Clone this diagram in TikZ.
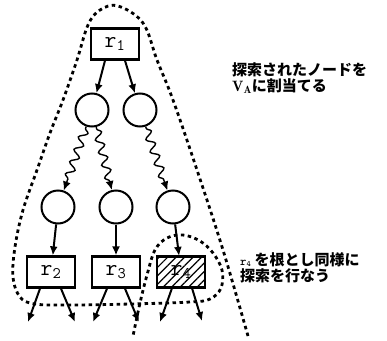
\documentclass[tikz,border=0pt]{standalone}
\usepackage{fontspec}
\newfontfamily\jp{Noto Sans CJK JP}
\usetikzlibrary{arrows.meta,decorations.pathmorphing,patterns.meta}
\begin{document}
\begin{tikzpicture}[x=1pt,y=-1pt,
 box/.style={draw, line width=2.2pt, minimum width=48pt, minimum height=31pt, inner sep=0pt, font=\fontsize{23}{23}\ttfamily},
 circ/.style={draw, circle, line width=2pt, minimum size=33pt, inner sep=0pt},
 arr/.style={line width=2pt, -{Latex[length=9pt,width=8pt]}},
 wavy/.style={line width=1.4pt, -{Latex[length=9pt,width=8pt]}, decorate, decoration={snake, segment length=13pt, amplitude=4pt, pre length=2pt, post length=8pt}},
 bound/.style={line width=2.8pt, dash pattern=on 3.5pt off 3.5pt},
 note/.style={font=\jp\bfseries\fontsize{15}{16}\selectfont, align=left, inner sep=0pt, anchor=north west}
]
\useasboundingbox (0,0) rectangle (387,340);

% big search boundary and the sub-search loop
\draw[bound] plot[smooth, tension=0.6] coordinates {
 (248,336) (223,250) (197,170) (173,100) (157,60) (143,23) (118,6) (100,10) (88,25)
 (77,60) (63,100) (50,133) (37,170) (23,210) (15,247) (13,277) (20,297) (35,304)
 (70,305) (130,304) (190,302) (210,299) (221,288) (222,270) (213,253) (200,241)
 (183,235) (167,238) (155,250) (147,275) (140,303) (133,336)};

% nodes
\node[box] (r1) at (115,44) {r\textsubscript{1}};
\node[circ] (c1) at (92,110) {};
\node[circ] (c2) at (140,110) {};
\node[circ] (c3) at (58,207) {};
\node[circ] (c4) at (116,207) {};
\node[circ] (c5) at (173,207) {};
\node[box] (r2) at (51,272) {r\textsubscript{2}};
\node[box] (r3) at (116,272) {r\textsubscript{3}};
\node[box, pattern={Lines[angle=45,distance=6pt,line width=1.2pt]}] (r4) at (181,272) {r\textsubscript{4}};

% connectors
\draw[arr] ([xshift=-10pt]r1.south) -- (c1);
\draw[arr] ([xshift=10pt]r1.south) -- (c2);
\draw[wavy] (c1) -- (c3);
\draw[wavy] (c1) -- (c4);
\draw[wavy] (c2) -- (c5);
\draw[arr] (c3) -- (r2);
\draw[arr] (c4) -- (r3);
\draw[arr] (c5) -- (r4);

% outgoing arrows
\coordinate (o1) at (28,322);
\coordinate (o2) at (75,322);
\coordinate (o3) at (93,322);
\coordinate (o4) at (139,322);
\coordinate (o5) at (160,322);
\coordinate (o6) at (202,321);
\draw[arr] ([xshift=-11pt]r2.south) -- (o1);
\draw[arr] ([xshift=10pt]r2.south) -- (o2);
\draw[arr] ([xshift=-9pt]r3.south) -- (o3);
\draw[arr] ([xshift=9pt]r3.south) -- (o4);
\draw[arr] ([xshift=-9pt]r4.south) -- (o5);
\draw[arr] ([xshift=11pt]r4.south) -- (o6);

% notes
\node[note] (n1) at (232,62) {探索されたノードを\\$\mathbf{V_A}$に割当てる};
\node[note] (n2) at (240,252) {{\ttfamily\fontsize{12}{12}\selectfont r\textsubscript{4}} を根とし同様に\\探索を行なう};
\end{tikzpicture}
\end{document}
